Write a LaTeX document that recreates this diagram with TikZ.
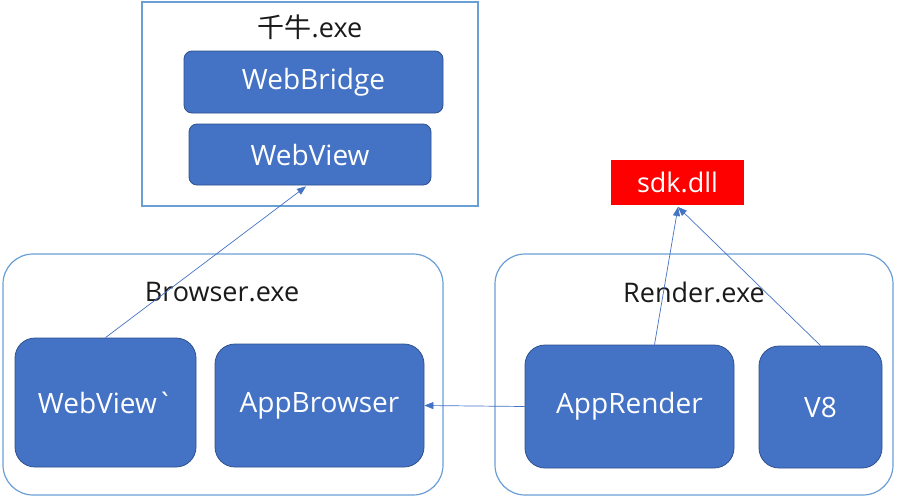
\documentclass[tikz,border=0pt]{standalone}
\usepackage{fontspec}
\setmainfont{Open Sans}
\newfontfamily\osans{Open Sans}
\newfontfamily\cjk{Noto Sans CJK SC}
\usetikzlibrary{arrows.meta,calc}
\definecolor{boxblue}{HTML}{4472C4}
\definecolor{boxedge}{HTML}{2F528F}
\definecolor{frameblue}{HTML}{6A9FD6}
\definecolor{titleblack}{HTML}{1A1A1A}
\begin{document}
\begin{tikzpicture}[x=1pt,y=-1pt,
  blk/.style={draw=boxedge,line width=0.8pt,fill=boxblue,text=white,rounded corners=#1,font=\fontsize{28}{30}\selectfont,inner sep=0pt},
  blk/.default=8pt,
  frame/.style={draw=frameblue,line width=1.2pt,fill=white,inner sep=0pt},
  ttl/.style={text=titleblack,font=\fontsize{27}{30}\selectfont,inner sep=0pt},
  conn/.style={draw=boxblue,line width=0.7pt,-{Triangle[length=9pt,width=7pt]}}]
\useasboundingbox (0,0) rectangle (897,498);
% top process
\node[frame,minimum width=336pt,minimum height=204pt] (qn) at (310,104) {};
\node[ttl] (qnt) at (310,27) {{\cjk 千牛}.exe};
\node[blk,minimum width=259pt,minimum height=62pt] (wb) at (313.5,82) {WebBridge};
\node[blk,minimum width=242pt,minimum height=61pt] (wv) at (310,154.5) {WebView};
% sdk
\node[draw=none,fill=red,text=white,font=\fontsize{27}{30}\selectfont,minimum width=133pt,minimum height=45pt,inner sep=0pt] (sdk) at (677.5,182.5) {sdk.dll};
\coordinate (sdkin) at (678,207);
% browser process
\node[frame,rounded corners=30pt,minimum width=440pt,minimum height=241pt] (br) at (223,374.5) {};
\node[ttl] (brt) at (222,292) {Browser.exe};
\node[blk=20pt,minimum width=181pt,minimum height=129pt] (wv2) at (105.5,402.5) {WebView{\osans\char"60}};
\node[blk=20pt,minimum width=209pt,minimum height=123pt] (ab) at (319.5,405.5) {AppBrowser};
% render process
\node[frame,rounded corners=30pt,minimum width=398pt,minimum height=241pt] (rd) at (694,374.5) {};
\node[ttl] (rdt) at (694,292) {Render.exe};
\node[blk=20pt,minimum width=209pt,minimum height=123pt] (ar) at (629.5,406.5) {AppRender};
\node[blk=20pt,minimum width=123pt,minimum height=122pt] (v8) at (820.5,407) {V8};
% connectors
\draw[conn] (wv2.north) -- ($(wv.south)+(-4,1)$);
\draw[conn] ($(ar.north)+(25,0)$) -- (sdkin);
\draw[conn] (v8.north) -- (sdkin);
\draw[conn] (ar.west) -- (ab.east);
\end{tikzpicture}
\end{document}
